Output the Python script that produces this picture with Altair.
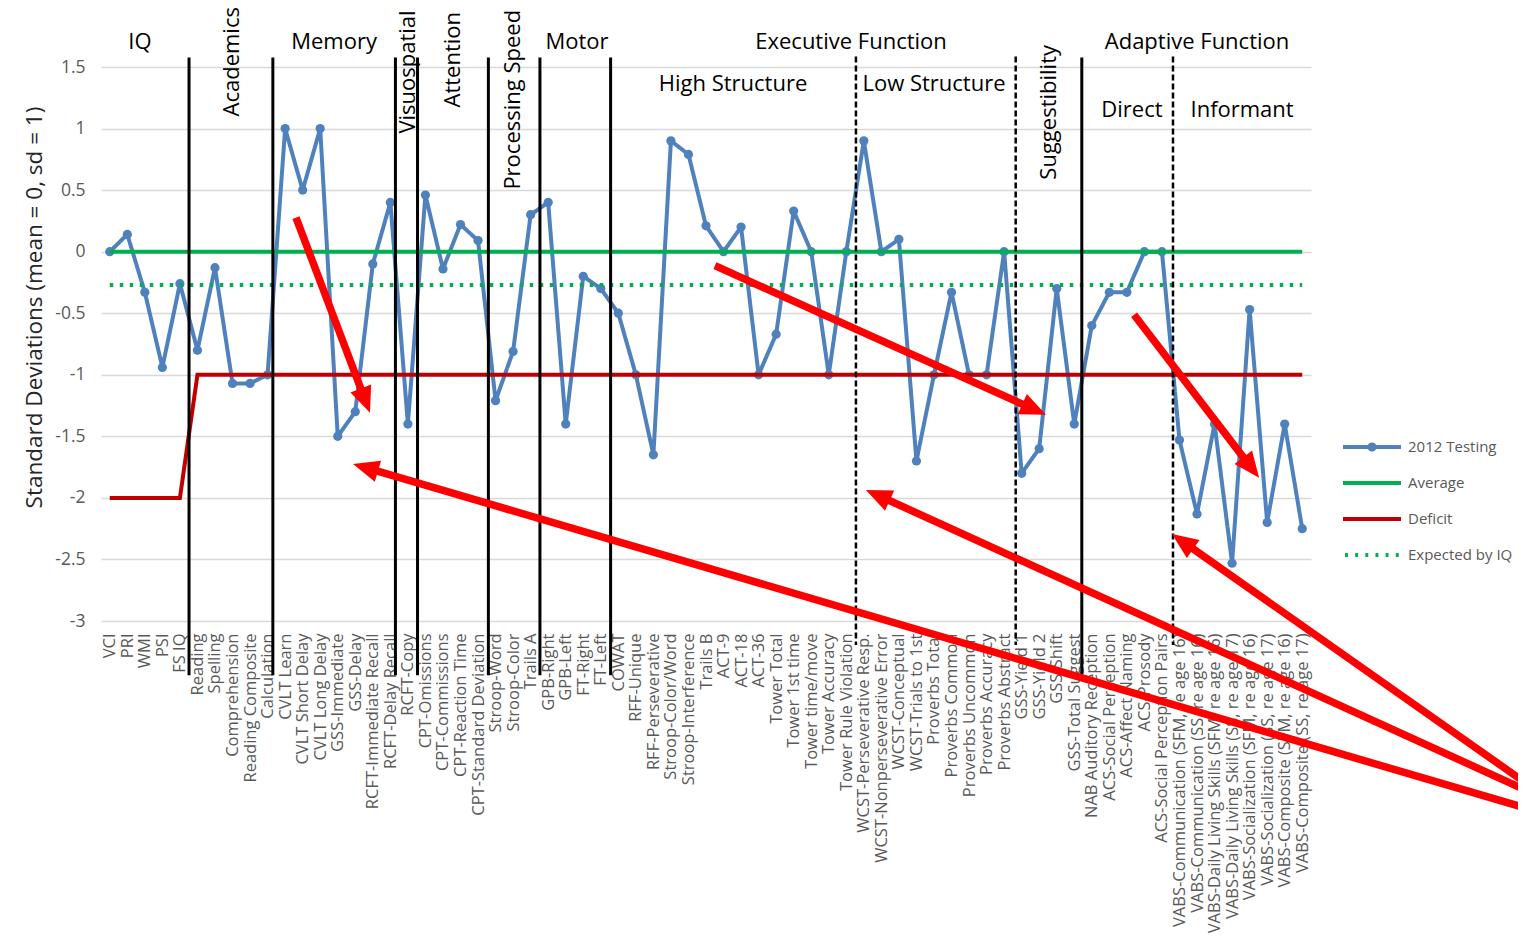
import json
import math
import altair as alt
import pandas as pd

FONT = "Open Sans"

# ---------------- data ----------------
categories = [
    "VCI", "PRI", "WMI", "PSI", "FS IQ",
    "Reading", "Spelling", "Comprehension", "Reading Composite", "Calculation",
    "CVLT Learn", "CVLT Short Delay", "CVLT Long Delay", "GSS-Immediate", "GSS-Delay",
    "RCFT-Immediate Recall", "RCFT-Delay Recall", "RCFT-Copy",
    "CPT-Omissions", "CPT-Commissions", "CPT-Reaction Time", "CPT-Standard Deviation",
    "Stroop-Word", "Stroop-Color", "Trails A",
    "GPB-Right", "GPB-Left", "FT-Right", "FT-Left",
    "COWAT", "RFF-Unique", "RFF-Perseverative", "Stroop-Color/Word", "Stroop-Interference",
    "Trails B", "ACT-9", "ACT-18", "ACT-36", "Tower Total", "Tower 1st time",
    "Tower time/move", "Tower Accuracy", "Tower Rule Violation",
    "WCST-Perseverative Resp.", "WCST-Nonperseverative Error", "WCST-Conceptual",
    "WCST-Trials to 1st", "Proverbs Total", "Proverbs Common", "Proverbs Uncommon",
    "Proverbs Accuracy", "Proverbs Abstract",
    "GSS-Yield 1", "GSS-Yield 2", "GSS-Shift", "GSS-Total Suggest",
    "NAB Auditory Reception", "ACS-Social Perception", "ACS-Affect Naming", "ACS-Prosody",
    "ACS-Social Perception Pairs",
    "VABS-Communication (SFM, re age 16)", "VABS-Communication (SS, re age 16)",
    "VABS-Daily Living Skills (SFM, re age 16)", "VABS-Daily Living Skills (SS, re age 17)",
    "VABS-Socialization (SFM, re age 16)", "VABS-Socialization (SS, re age 17)",
    "VABS-Composite (SFM, re age 16)", "VABS-Composite (SS, re age 17)",
]

testing_2012 = [
    0.0, 0.14, -0.33, -0.94, -0.26,
    -0.80, -0.13, -1.07, -1.07, -1.0,
    1.0, 0.50, 1.0, -1.50, -1.30,
    -0.10, 0.40, -1.40,
    0.46, -0.14, 0.22, 0.09,
    -1.21, -0.81, 0.30,
    0.40, -1.40, -0.20, -0.30,
    -0.50, -1.0, -1.65, 0.90, 0.79,
    0.21, 0.0, 0.20, -1.0, -0.67, 0.33,
    0.0, -1.0, 0.0,
    0.90, 0.0, 0.10,
    -1.70, -1.0, -0.33, -1.0,
    -1.0, 0.0,
    -1.80, -1.60, -0.30, -1.40,
    -0.60, -0.33, -0.33, 0.0,
    0.0,
    -1.53, -2.13,
    -1.40, -2.53,
    -0.47, -2.20,
    -1.40, -2.25,
]
average = [0.0] * len(categories)
deficit = [-2.0] * 5 + [-1.0] * (len(categories) - 5)
expected_by_iq = [-0.27] * len(categories)

series_names = ["2012 Testing", "Average", "Deficit", "Expected by IQ"]
series_colors = ["#4F81BD", "#00B050", "#C00000", "#00B050"]
series_dashes = [[1, 0], [1, 0], [1, 0], [3.5, 6.5]]
series_widths = [4, 4, 3.5, 4.5]

# section divider lines (category-index positions)
solid_x = [4.52, 9.3, 16.29, 17.55, 21.59, 24.53, 28.56, 55.43]
dashed_x = [42.55, 51.66, 60.63]
solid_span = [1.577, -3.44]
dashed_span = [1.585, -3.195]

# section headings
head_h_text = ["IQ", "Memory", "Motor", "Executive Function", "Adaptive Function",
               "High Structure", "Low Structure", "Direct", "Informant"]
head_h_x = [1.72, 12.79, 26.64, 42.27, 62.0, 35.54, 47.0, 58.29, 64.57]
head_h_y = [1.707, 1.707, 1.707, 1.707, 1.707, 1.358, 1.358, 1.154, 1.154]

head_v_text = ["Academics", "Visuospatial", "Attention", "Processing Speed", "Suggestibility"]
head_v_x = [6.97, 17.01, 19.57, 22.99, 53.56]
head_v_y = [1.098, 0.959, 1.171, 0.504, 0.585]

# red annotation arrows (tail -> head, in category index / SD units)
arrow_tail_x = [80.76, 80.76, 80.76, 10.62, 34.51, 58.41]
arrow_tail_y = [-4.52, -4.374, -4.317, 0.276, -0.114, -0.512]
arrow_head_x = [13.87, 43.12, 60.57, 14.84, 53.39, 65.54]
arrow_head_y = [-1.724, -1.935, -2.293, -1.309, -1.325, -1.837]

# ---------------- layout ----------------
W, H = 1210, 554
X_DOM = [-0.5, len(categories) - 0.5]
Y_DOM = [-3, 1.5]
PX_X = W / (X_DOM[1] - X_DOM[0])
PX_Y = H / (Y_DOM[1] - Y_DOM[0])

idx = list(range(len(categories)))
rows = []
for name, vals in zip(series_names, [testing_2012, average, deficit, expected_by_iq]):
    for i, v in zip(idx, vals):
        rows.append({"i": i, "v": v, "series": name})
df_lines = pd.DataFrame(rows)

x_scale = alt.Scale(domain=X_DOM, nice=False, zero=False)
y_scale = alt.Scale(domain=Y_DOM, nice=False, zero=False)

x_axis = alt.Axis(
    values=idx, labelExpr=f"{json.dumps(categories)}[datum.value]",
    labelAngle=270, labelAlign="right", labelBaseline="middle", labelPadding=12,
    labelFont=FONT, labelFontSize=16.5, labelColor="#595959", labelOverlap=False,
    labelFlush=False, labelBound=False, labelLimit=500,
    ticks=False, domain=False, grid=False, title=None,
)
y_axis = alt.Axis(
    values=[-3, -2.5, -2, -1.5, -1, -0.5, 0, 0.5, 1, 1.5], labelExpr="toString(datum.value)",
    grid=True, gridColor="#D9D9D9", gridWidth=1.5, ticks=False, domain=False,
    labelPadding=16, labelFont=FONT, labelFontSize=17.5, labelColor="#595959",
    title="Standard Deviations (mean = 0, sd = 1)", titleFont=FONT, titleFontSize=22.5,
    titleFontWeight="normal", titleColor="#262626", titleBaseline="middle",
    titleAlign="center", titleAngle=270, titleX=-67, titleY=240,
)


def X(field):
    return alt.X(field, scale=x_scale, axis=x_axis)


def Y(field):
    return alt.Y(field, scale=y_scale, axis=y_axis)


# legend symbol shapes (line with marker, plain lines, dotted line)
line_marker = "M-1,0H1M0.09,0A0.09,0.09,0,1,1,-0.09,0A0.09,0.09,0,1,1,0.09,0"
plain_line = "M-1,0H1"
dotted_line = "".join(
    f"M{c - 0.05:.2f},0H{c + 0.05:.2f}" for c in [-0.88, -0.53, -0.18, 0.17, 0.52, 0.87]
)
legend_shapes = [line_marker, plain_line, plain_line, dotted_line]

leg = alt.Legend(
    title=None, orient="none", legendX=1240, legendY=362, direction="vertical",
    symbolSize=3364, symbolStrokeWidth=4, clipHeight=36,
    labelFont=FONT, labelFontSize=15, labelColor="#595959", labelOffset=5,
    labelLimit=300, rowPadding=0, padding=0,
)

color_scale = alt.Scale(domain=series_names, range=series_colors)
color_enc = alt.Color("series:N", scale=color_scale, legend=leg)
dash_enc = alt.StrokeDash("series:N", scale=alt.Scale(domain=series_names, range=series_dashes), legend=None)
width_enc = alt.StrokeWidth("series:N", scale=alt.Scale(domain=series_names, range=series_widths), legend=None)

base = alt.Chart(df_lines)

blue_line = base.transform_filter(alt.datum.series == "2012 Testing").mark_line(strokeJoin="round").encode(
    x=X("i:Q"), y=Y("v:Q"), color=color_enc, strokeDash=dash_enc, strokeWidth=width_enc,
)
blue_pts = base.transform_filter(alt.datum.series == "2012 Testing").mark_circle(
    size=85, opacity=1, color="#4F81BD"
).encode(x=X("i:Q"), y=Y("v:Q"))
ref_lines = base.transform_filter(alt.datum.series != "2012 Testing").mark_line().encode(
    x=X("i:Q"), y=Y("v:Q"), color=color_enc, strokeDash=dash_enc, strokeWidth=width_enc,
)
# legend only (no marks drawn): series colour + custom symbol per series
legend_layer = base.transform_filter("false").mark_point(filled=False, opacity=1).encode(
    x=X("i:Q"), y=Y("v:Q"),
    color=color_enc,
    shape=alt.Shape("series:N", scale=alt.Scale(domain=series_names, range=legend_shapes), legend=leg),
)

df_solid = pd.DataFrame({"x": solid_x, "y1": solid_span[0], "y2": solid_span[1]})
df_dashed = pd.DataFrame({"x": dashed_x, "y1": dashed_span[0], "y2": dashed_span[1]})
solid_rules = alt.Chart(df_solid).mark_rule(color="black", strokeWidth=3).encode(
    x=X("x:Q"), y=Y("y1:Q"), y2="y2:Q",
)
dashed_rules = alt.Chart(df_dashed).mark_rule(color="black", strokeWidth=2.5, strokeDash=[6, 3]).encode(
    x=X("x:Q"), y=Y("y1:Q"), y2="y2:Q",
)

df_hh = pd.DataFrame({"t": head_h_text, "x": head_h_x, "y": head_h_y})
df_hv = pd.DataFrame({"t": head_v_text, "x": head_v_x, "y": head_v_y})
heads_h = alt.Chart(df_hh).mark_text(font=FONT, fontSize=22, color="black", align="center", baseline="middle").encode(
    x=X("x:Q"), y=Y("y:Q"), text="t:N",
)
heads_v = alt.Chart(df_hv).mark_text(font=FONT, fontSize=22, color="black", align="left", baseline="middle", angle=270).encode(
    x=X("x:Q"), y=Y("y:Q"), text="t:N",
)

# arrows: shaft stops at base of head; head drawn as a rotated custom triangle with its tip at the target
HEAD_R = 13.0
arrow_rows = []
for tx, ty, hx, hy in zip(arrow_tail_x, arrow_tail_y, arrow_head_x, arrow_head_y):
    dxp = (hx - tx) * PX_X
    dyp = -(hy - ty) * PX_Y
    L = math.hypot(dxp, dyp)
    ux, uy = dxp / L, dyp / L
    ang = math.degrees(math.atan2(ux, -uy)) % 360
    back = 2 * HEAD_R - 4
    sx = hx - ux * back / PX_X
    sy = hy + uy * back / PX_Y
    arrow_rows.append({"tx": tx, "ty": ty, "sx": sx, "sy": sy, "hx": hx, "hy": hy, "ang": ang})
df_arrows = pd.DataFrame(arrow_rows)

shafts = alt.Chart(df_arrows).mark_rule(color="#FF0000", strokeWidth=7.5).encode(
    x=X("tx:Q"), y=Y("ty:Q"), x2="sx:Q", y2="sy:Q",
)
heads = alt.Chart(df_arrows).mark_point(
    shape="M0,0L0.85,2L-0.85,2Z", filled=True, color="#FF0000", opacity=1,
    size=(2 * HEAD_R) ** 2, strokeWidth=0,
).encode(
    x=X("hx:Q"), y=Y("hy:Q"), angle=alt.Angle("ang:Q", scale=None),
)

chart = alt.layer(
    blue_line, blue_pts, ref_lines, solid_rules, dashed_rules, heads_h, heads_v, shafts, heads, legend_layer
).properties(
    width=W, height=H,
    padding={"left": 93, "top": 59, "right": 207, "bottom": 315},
    autosize=alt.AutoSizeParams(type="none"),
).configure_view(stroke=None)

chart.save("out.html", embed_options={"renderer": "svg", "actions": False})
